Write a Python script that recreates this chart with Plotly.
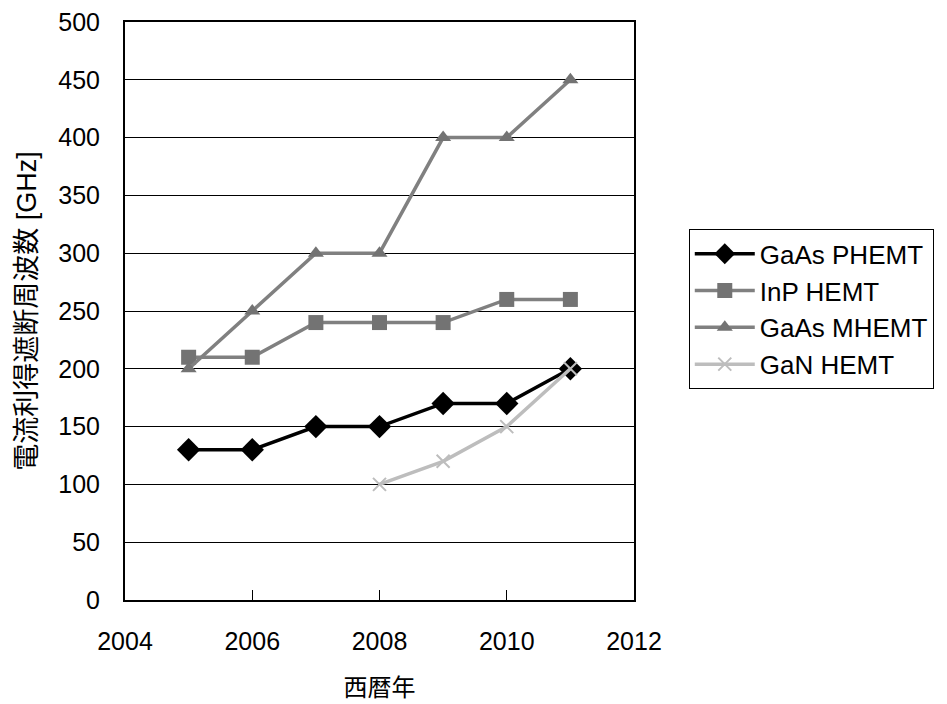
import plotly.graph_objects as go

years = [2005, 2006, 2007, 2008, 2009, 2010, 2011]
gaas_phemt = [130, 130, 150, 150, 170, 170, 200]
inp_hemt = [210, 210, 240, 240, 240, 260, 260]
gaas_mhemt = [200, 250, 300, 300, 400, 400, 450]
gan_years = [2008, 2009, 2010, 2011]
gan_hemt = [100, 120, 150, 200]

font_family = "Liberation Sans, Noto Sans CJK JP"

fig = go.Figure()
fig.add_trace(go.Scatter(x=years, y=gaas_phemt, name="GaAs PHEMT", mode="lines+markers",
                         line=dict(color="#000000", width=3.5),
                         marker=dict(symbol="diamond", size=18, color="#000000")))
fig.add_trace(go.Scatter(x=years, y=inp_hemt, name="InP HEMT", mode="lines+markers",
                         line=dict(color="#808080", width=3.5),
                         marker=dict(symbol="square", size=15, color="#737373")))
fig.add_trace(go.Scatter(x=years, y=gaas_mhemt, name="GaAs MHEMT", mode="lines+markers",
                         line=dict(color="#808080", width=3.5),
                         marker=dict(symbol="triangle-up", size=14, color="#737373")))
fig.add_trace(go.Scatter(x=gan_years, y=gan_hemt, name="GaN HEMT", mode="lines+markers",
                         line=dict(color="#bdbdbd", width=3.5),
                         marker=dict(symbol="x-thin", size=13, color="#bdbdbd",
                                     line=dict(color="#bdbdbd", width=2))))

fig.update_layout(
    width=939, height=696,
    margin=dict(l=117, r=313, t=14, b=104, autoexpand=False),
    paper_bgcolor="white", plot_bgcolor="white",
    font=dict(family=font_family, size=25, color="#000000"),
    showlegend=True,
    legend=dict(xref="container", yref="container", x=0.725, y=0.682,
                xanchor="left", yanchor="top",
                bordercolor="#000000", borderwidth=1, bgcolor="white",
                font=dict(size=26, family=font_family), itemwidth=60,
                tracegroupgap=2),
    xaxis=dict(range=[2004, 2012], dtick=2, tick0=2004, showgrid=False,
               showline=True, linecolor="#000000", linewidth=2, mirror=True,
               ticks="inside", ticklen=10, tickcolor="#000000",
               ticklabelstandoff=18, automargin=False, ticklabeloverflow="allow",
               title=dict(text="西暦年", standoff=25,
                          font=dict(size=24, family="Noto Sans CJK JP")),
               tickfont=dict(size=25), zeroline=False),
    yaxis=dict(range=[0, 500], dtick=50, showgrid=True, gridcolor="#000000", gridwidth=1,
               showline=True, linecolor="#000000", linewidth=2, mirror=True,
               ticks="", ticklabelstandoff=18, automargin=False, ticklabeloverflow="allow",
               title=dict(text="電流利得遮断周波数 [GHz]", standoff=14,
                          font=dict(size=27, family=font_family)),
               tickfont=dict(size=25), zeroline=False),
)

fig.write_html("out.html")
